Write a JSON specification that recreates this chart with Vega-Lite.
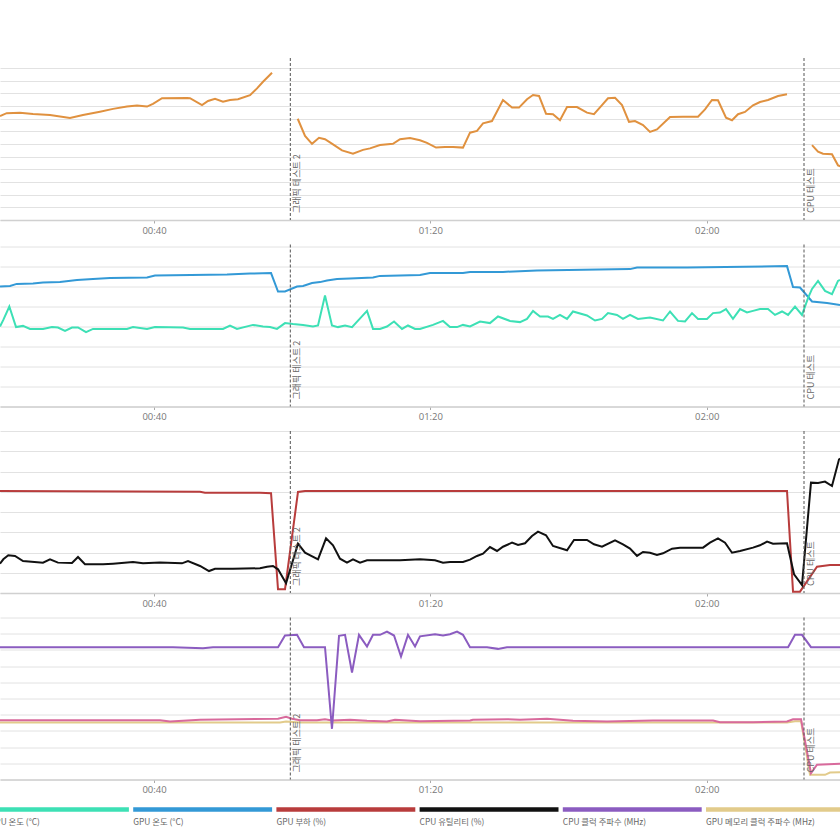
{
  "$schema": "https://vega.github.io/schema/vega-lite/v6.json",
  "background": "white",
  "padding": {"top": 57, "left": 0, "right": 0, "bottom": 0},
  "spacing": 8.5,
  "config": {
    "view": {"stroke": null},
    "font": "Noto Sans CJK KR",
    "axisX": {"domain": true, "domainColor": "#d0d0d0", "domainWidth": 1.5, "ticks": true, "tickColor": "#aaaaaa", "tickSize": 3, "labelColor": "#777777", "labelFontSize": 9.5, "labelPadding": 2, "labelFont": "Open Sans", "grid": false},
    "axisY": {"domain": false, "ticks": false, "labels": false, "grid": true, "gridColor": "#e2e2e2", "gridWidth": 1, "gridOpacity": 1},
    "line": {"strokeWidth": 2, "clip": true}
  },
  "datasets": {
    "fps": [
      {"s":"프레임 속도 (FPS)","seg":1,"t":17.71,"v":41.1},{"s":"프레임 속도 (FPS)","seg":1,"t":18.68,"v":42.2},{"s":"프레임 속도 (FPS)","seg":1,"t":20.60,"v":42.4},{"s":"프레임 속도 (FPS)","seg":1,"t":22.49,"v":41.9},{"s":"프레임 속도 (FPS)","seg":1,"t":24.95,"v":41.5},{"s":"프레임 속도 (FPS)","seg":1,"t":27.84,"v":40.3},{"s":"프레임 속도 (FPS)","seg":1,"t":29.72,"v":41.5},{"s":"프레임 속도 (FPS)","seg":1,"t":32.18,"v":42.8},{"s":"프레임 속도 (FPS)","seg":1,"t":34.07,"v":43.9},{"s":"프레임 속도 (FPS)","seg":1,"t":36.09,"v":44.8},{"s":"프레임 속도 (FPS)","seg":1,"t":37.54,"v":45.2},{"s":"프레임 속도 (FPS)","seg":1,"t":38.99,"v":44.8},{"s":"프레임 속도 (FPS)","seg":1,"t":39.85,"v":45.9},{"s":"프레임 속도 (FPS)","seg":1,"t":41.16,"v":48.1},{"s":"프레임 속도 (FPS)","seg":1,"t":44.78,"v":48.2},{"s":"프레임 속도 (FPS)","seg":1,"t":45.21,"v":48.1},{"s":"프레임 속도 (FPS)","seg":1,"t":46.95,"v":45.4},{"s":"프레임 속도 (FPS)","seg":1,"t":47.82,"v":47.0},{"s":"프레임 속도 (FPS)","seg":1,"t":48.83,"v":47.9},{"s":"프레임 속도 (FPS)","seg":1,"t":49.99,"v":46.7},{"s":"프레임 속도 (FPS)","seg":1,"t":51.00,"v":47.4},{"s":"프레임 속도 (FPS)","seg":1,"t":52.16,"v":47.7},{"s":"프레임 속도 (FPS)","seg":1,"t":53.90,"v":49.3},{"s":"프레임 속도 (FPS)","seg":1,"t":54.91,"v":52.0},{"s":"프레임 속도 (FPS)","seg":1,"t":55.78,"v":54.6},{"s":"프레임 속도 (FPS)","seg":1,"t":57.08,"v":58.2},
      {"s":"프레임 속도 (FPS)","seg":2,"t":60.80,"v":40.0},{"s":"프레임 속도 (FPS)","seg":2,"t":61.86,"v":33.2},{"s":"프레임 속도 (FPS)","seg":2,"t":62.87,"v":30.1},{"s":"프레임 속도 (FPS)","seg":2,"t":63.88,"v":32.5},{"s":"프레임 속도 (FPS)","seg":2,"t":64.75,"v":31.9},{"s":"프레임 속도 (FPS)","seg":2,"t":65.91,"v":29.9},{"s":"프레임 속도 (FPS)","seg":2,"t":67.21,"v":27.5},{"s":"프레임 속도 (FPS)","seg":2,"t":68.80,"v":26.2},{"s":"프레임 속도 (FPS)","seg":2,"t":70.25,"v":27.7},{"s":"프레임 속도 (FPS)","seg":2,"t":71.26,"v":28.3},
      {"s":"프레임 속도 (FPS)","seg":2,"t":72.71,"v":29.6},{"s":"프레임 속도 (FPS)","seg":2,"t":74.59,"v":30.1},{"s":"프레임 속도 (FPS)","seg":2,"t":75.61,"v":31.9},{"s":"프레임 속도 (FPS)","seg":2,"t":77.05,"v":32.4},{"s":"프레임 속도 (FPS)","seg":2,"t":78.50,"v":31.5},{"s":"프레임 속도 (FPS)","seg":2,"t":79.51,"v":30.5},{"s":"프레임 속도 (FPS)","seg":2,"t":80.82,"v":28.6},{"s":"프레임 속도 (FPS)","seg":2,"t":82.12,"v":28.8},{"s":"프레임 속도 (FPS)","seg":2,"t":83.28,"v":28.8},{"s":"프레임 속도 (FPS)","seg":2,"t":84.72,"v":28.6},
      {"s":"프레임 속도 (FPS)","seg":2,"t":85.74,"v":34.5},{"s":"프레임 속도 (FPS)","seg":2,"t":86.75,"v":35.2},{"s":"프레임 속도 (FPS)","seg":2,"t":87.62,"v":38.2},{"s":"프레임 속도 (FPS)","seg":2,"t":88.92,"v":39.1},{"s":"프레임 속도 (FPS)","seg":2,"t":90.51,"v":47.4},{"s":"프레임 속도 (FPS)","seg":2,"t":91.82,"v":44.4},{"s":"프레임 속도 (FPS)","seg":2,"t":92.83,"v":44.4},{"s":"프레임 속도 (FPS)","seg":2,"t":93.99,"v":47.7},{"s":"프레임 속도 (FPS)","seg":2,"t":94.86,"v":49.4},{"s":"프레임 속도 (FPS)","seg":2,"t":95.73,"v":49.0},
      {"s":"프레임 속도 (FPS)","seg":2,"t":96.74,"v":42.0},{"s":"프레임 속도 (FPS)","seg":2,"t":97.75,"v":41.8},{"s":"프레임 속도 (FPS)","seg":2,"t":98.76,"v":39.4},{"s":"프레임 속도 (FPS)","seg":2,"t":99.78,"v":44.6},{"s":"프레임 속도 (FPS)","seg":2,"t":101.22,"v":44.6},{"s":"프레임 속도 (FPS)","seg":2,"t":102.67,"v":42.4},{"s":"프레임 속도 (FPS)","seg":2,"t":103.68,"v":41.8},{"s":"프레임 속도 (FPS)","seg":2,"t":104.84,"v":45.4},{"s":"프레임 속도 (FPS)","seg":2,"t":105.71,"v":48.1},{"s":"프레임 속도 (FPS)","seg":2,"t":106.73,"v":48.3},
      {"s":"프레임 속도 (FPS)","seg":2,"t":107.74,"v":45.4},{"s":"프레임 속도 (FPS)","seg":2,"t":108.75,"v":38.8},{"s":"프레임 속도 (FPS)","seg":2,"t":109.62,"v":39.1},{"s":"프레임 속도 (FPS)","seg":2,"t":110.78,"v":37.5},{"s":"프레임 속도 (FPS)","seg":2,"t":111.79,"v":34.8},{"s":"프레임 속도 (FPS)","seg":2,"t":112.80,"v":35.8},{"s":"프레임 속도 (FPS)","seg":2,"t":114.69,"v":40.7},{"s":"프레임 속도 (FPS)","seg":2,"t":116.57,"v":40.8},{"s":"프레임 속도 (FPS)","seg":2,"t":118.74,"v":40.8},{"s":"프레임 속도 (FPS)","seg":2,"t":119.75,"v":43.7},
      {"s":"프레임 속도 (FPS)","seg":2,"t":120.76,"v":47.4},{"s":"프레임 속도 (FPS)","seg":2,"t":121.63,"v":47.3},{"s":"프레임 속도 (FPS)","seg":2,"t":122.79,"v":40.4},{"s":"프레임 속도 (FPS)","seg":2,"t":123.66,"v":39.4},{"s":"프레임 속도 (FPS)","seg":2,"t":124.53,"v":41.8},{"s":"프레임 속도 (FPS)","seg":2,"t":125.54,"v":42.7},{"s":"프레임 속도 (FPS)","seg":2,"t":126.70,"v":45.3},{"s":"프레임 속도 (FPS)","seg":2,"t":127.71,"v":46.6},{"s":"프레임 속도 (FPS)","seg":2,"t":128.87,"v":47.4},{"s":"프레임 속도 (FPS)","seg":2,"t":130.32,"v":49.0},{"s":"프레임 속도 (FPS)","seg":2,"t":131.62,"v":49.7},
      {"s":"프레임 속도 (FPS)","seg":3,"t":135.24,"v":29.6},{"s":"프레임 속도 (FPS)","seg":3,"t":136.11,"v":27.0},{"s":"프레임 속도 (FPS)","seg":3,"t":136.83,"v":26.2},{"s":"프레임 속도 (FPS)","seg":3,"t":138.13,"v":26.0},{"s":"프레임 속도 (FPS)","seg":3,"t":139.00,"v":21.6},{"s":"프레임 속도 (FPS)","seg":3,"t":139.58,"v":21.0}
    ],
    "temp": [
      {"s":"GPU 온도 (°C)","t":17.71,"v":60},{"s":"GPU 온도 (°C)","t":19.16,"v":60.3},{"s":"GPU 온도 (°C)","t":20.13,"v":61.3},{"s":"GPU 온도 (°C)","t":22.49,"v":61.5},{"s":"GPU 온도 (°C)","t":23.93,"v":62},{"s":"GPU 온도 (°C)","t":26.39,"v":62.2},{"s":"GPU 온도 (°C)","t":28.85,"v":63.3},{"s":"GPU 온도 (°C)","t":31.17,"v":63.7},{"s":"GPU 온도 (°C)","t":33.63,"v":64.2},{"s":"GPU 온도 (°C)","t":38.99,"v":64.5},{"s":"GPU 온도 (°C)","t":40.14,"v":65.5},{"s":"GPU 온도 (°C)","t":50.57,"v":66},{"s":"GPU 온도 (°C)","t":53.90,"v":66.5},{"s":"GPU 온도 (°C)","t":56.94,"v":66.7},{"s":"GPU 온도 (°C)","t":57.95,"v":57.5},{"s":"GPU 온도 (°C)","t":58.96,"v":57.5},{"s":"GPU 온도 (°C)","t":60.70,"v":60},{"s":"GPU 온도 (°C)","t":61.57,"v":60.3},{"s":"GPU 온도 (°C)","t":62.87,"v":61.7},{"s":"GPU 온도 (°C)","t":64.03,"v":62.2},{"s":"GPU 온도 (°C)","t":65.04,"v":63},{"s":"GPU 온도 (°C)","t":66.49,"v":63.7},{"s":"GPU 온도 (°C)","t":68.37,"v":64},{"s":"GPU 온도 (°C)","t":71.70,"v":64.5},{"s":"GPU 온도 (°C)","t":72.71,"v":65.3},{"s":"GPU 온도 (°C)","t":78.50,"v":65.8},{"s":"GPU 온도 (°C)","t":79.95,"v":66.7},{"s":"GPU 온도 (°C)","t":84.72,"v":66.8},{"s":"GPU 온도 (°C)","t":85.74,"v":67.3},{"s":"GPU 온도 (°C)","t":90.51,"v":67.3},{"s":"GPU 온도 (°C)","t":95.44,"v":68},{"s":"GPU 온도 (°C)","t":108.90,"v":68.7},{"s":"GPU 온도 (°C)","t":109.91,"v":69.5},{"s":"GPU 온도 (°C)","t":117.15,"v":69.5},{"s":"GPU 온도 (°C)","t":131.62,"v":70.2},{"s":"GPU 온도 (°C)","t":132.49,"v":59.7},{"s":"GPU 온도 (°C)","t":133.50,"v":59.5},{"s":"GPU 온도 (°C)","t":135.24,"v":52.5},{"s":"GPU 온도 (°C)","t":137.41,"v":51.7},{"s":"GPU 온도 (°C)","t":139.29,"v":50.8},
      {"s":"CPU 온도 (°C)","t":17.71,"v":40},{"s":"CPU 온도 (°C)","t":18.19,"v":43.3},{"s":"CPU 온도 (°C)","t":19.06,"v":50},{"s":"CPU 온도 (°C)","t":20.03,"v":39.7},{"s":"CPU 온도 (°C)","t":21.04,"v":40.3},{"s":"CPU 온도 (°C)","t":22.05,"v":38.8},{"s":"CPU 온도 (°C)","t":23.93,"v":38.8},{"s":"CPU 온도 (°C)","t":25.24,"v":39.7},{"s":"CPU 온도 (°C)","t":26.10,"v":39.5},{"s":"CPU 온도 (°C)","t":27.12,"v":37.8},{"s":"CPU 온도 (°C)","t":28.13,"v":39.5},{"s":"CPU 온도 (°C)","t":29.00,"v":39.5},{"s":"CPU 온도 (°C)","t":30.16,"v":37.2},{"s":"CPU 온도 (°C)","t":31.17,"v":38.8},{"s":"CPU 온도 (°C)","t":36.09,"v":38.8},{"s":"CPU 온도 (°C)","t":36.96,"v":39.7},{"s":"CPU 온도 (°C)","t":38.99,"v":38.8},{"s":"CPU 온도 (°C)","t":40.14,"v":39.7},{"s":"CPU 온도 (°C)","t":44.20,"v":39.5},{"s":"CPU 온도 (°C)","t":45.21,"v":38.8},{"s":"CPU 온도 (°C)","t":49.99,"v":38.8},{"s":"CPU 온도 (°C)","t":51.00,"v":40.5},{"s":"CPU 온도 (°C)","t":52.01,"v":38.8},{"s":"CPU 온도 (°C)","t":54.33,"v":40.8},{"s":"CPU 온도 (°C)","t":55.78,"v":40},{"s":"CPU 온도 (°C)","t":56.79,"v":39.7},{"s":"CPU 온도 (°C)","t":57.80,"v":38.8},{"s":"CPU 온도 (°C)","t":58.96,"v":41.7},{"s":"CPU 온도 (°C)","t":60.12,"v":41.2},{"s":"CPU 온도 (°C)","t":61.57,"v":40.8},{"s":"CPU 온도 (°C)","t":63.01,"v":40},{"s":"CPU 온도 (°C)","t":63.74,"v":40.5},{"s":"CPU 온도 (°C)","t":64.75,"v":55.5},{"s":"CPU 온도 (°C)","t":65.76,"v":40.5},{"s":"CPU 온도 (°C)","t":66.63,"v":39.7},{"s":"CPU 온도 (°C)","t":67.65,"v":40.5},{"s":"CPU 온도 (°C)","t":68.66,"v":39.7},{"s":"CPU 온도 (°C)","t":70.83,"v":47.8},{"s":"CPU 온도 (°C)","t":71.70,"v":38.8},{"s":"CPU 온도 (°C)","t":72.71,"v":38.8},{"s":"CPU 온도 (°C)","t":73.72,"v":40},{"s":"CPU 온도 (°C)","t":74.74,"v":42.5},{"s":"CPU 온도 (°C)","t":75.90,"v":38.8},{"s":"CPU 온도 (°C)","t":76.76,"v":40.5},{"s":"CPU 온도 (°C)","t":77.78,"v":38.8},{"s":"CPU 온도 (°C)","t":78.50,"v":38.8},{"s":"CPU 온도 (°C)","t":80.38,"v":40.8},{"s":"CPU 온도 (°C)","t":81.83,"v":42.8},{"s":"CPU 온도 (°C)","t":82.84,"v":39.7},{"s":"CPU 온도 (°C)","t":83.86,"v":39.7},{"s":"CPU 온도 (°C)","t":84.72,"v":40.8},{"s":"CPU 온도 (°C)","t":85.74,"v":40},{"s":"CPU 온도 (°C)","t":87.19,"v":42.5},{"s":"CPU 온도 (°C)","t":88.63,"v":41.7},{"s":"CPU 온도 (°C)","t":89.79,"v":45},{"s":"CPU 온도 (°C)","t":91.53,"v":42.8},{"s":"CPU 온도 (°C)","t":92.97,"v":42.2},{"s":"CPU 온도 (°C)","t":93.99,"v":43.8},{"s":"CPU 온도 (°C)","t":94.86,"v":47.8},{"s":"CPU 온도 (°C)","t":95.87,"v":45},{"s":"CPU 온도 (°C)","t":97.03,"v":45},{"s":"CPU 온도 (°C)","t":97.75,"v":43.8},{"s":"CPU 온도 (°C)","t":98.76,"v":45.8},{"s":"CPU 온도 (°C)","t":99.78,"v":43.8},{"s":"CPU 온도 (°C)","t":100.64,"v":47.5},{"s":"CPU 온도 (°C)","t":102.67,"v":45.5},{"s":"CPU 온도 (°C)","t":103.83,"v":43},{"s":"CPU 온도 (°C)","t":104.84,"v":43.8},{"s":"CPU 온도 (°C)","t":105.71,"v":46.7},{"s":"CPU 온도 (°C)","t":107.01,"v":45.8},{"s":"CPU 온도 (°C)","t":107.88,"v":43.8},{"s":"CPU 온도 (°C)","t":108.90,"v":45.8},{"s":"CPU 온도 (°C)","t":110.05,"v":43.8},{"s":"CPU 온도 (°C)","t":111.79,"v":44.5},{"s":"CPU 온도 (°C)","t":113.67,"v":43},{"s":"CPU 온도 (°C)","t":114.69,"v":47.5},{"s":"CPU 온도 (°C)","t":115.84,"v":42.8},{"s":"CPU 온도 (°C)","t":116.86,"v":42.5},{"s":"CPU 온도 (°C)","t":117.87,"v":46.7},{"s":"CPU 온도 (°C)","t":118.74,"v":43.8},{"s":"CPU 온도 (°C)","t":120.04,"v":43.8},{"s":"CPU 온도 (°C)","t":120.91,"v":46.7},{"s":"CPU 온도 (°C)","t":121.92,"v":47},{"s":"CPU 온도 (°C)","t":122.79,"v":48.7},{"s":"CPU 온도 (°C)","t":123.80,"v":43.8},{"s":"CPU 온도 (°C)","t":124.82,"v":48.7},{"s":"CPU 온도 (°C)","t":125.83,"v":47},{"s":"CPU 온도 (°C)","t":126.70,"v":47.8},{"s":"CPU 온도 (°C)","t":127.71,"v":48.7},{"s":"CPU 온도 (°C)","t":128.87,"v":48.7},{"s":"CPU 온도 (°C)","t":129.88,"v":45.8},{"s":"CPU 온도 (°C)","t":130.90,"v":47.5},{"s":"CPU 온도 (°C)","t":131.77,"v":45.8},{"s":"CPU 온도 (°C)","t":132.78,"v":50},{"s":"CPU 온도 (°C)","t":133.79,"v":45.8},{"s":"CPU 온도 (°C)","t":134.66,"v":54.2},{"s":"CPU 온도 (°C)","t":135.24,"v":58.8},{"s":"CPU 온도 (°C)","t":136.11,"v":62.8},{"s":"CPU 온도 (°C)","t":137.12,"v":57.8},{"s":"CPU 온도 (°C)","t":138.13,"v":56.2},{"s":"CPU 온도 (°C)","t":139.00,"v":62.8},{"s":"CPU 온도 (°C)","t":139.29,"v":63.3}
    ],
    "load": [
      {"s":"GPU 부하 (%)","t":17.71,"v":100.8},{"s":"GPU 부하 (%)","t":46.66,"v":100.1},{"s":"GPU 부하 (%)","t":47.38,"v":99.1},{"s":"GPU 부하 (%)","t":55.34,"v":99.1},{"s":"GPU 부하 (%)","t":56.94,"v":98.5},{"s":"GPU 부하 (%)","t":57.95,"v":3.6},{"s":"GPU 부하 (%)","t":58.96,"v":3.6},{"s":"GPU 부하 (%)","t":60.84,"v":99.8},{"s":"GPU 부하 (%)","t":61.86,"v":100.8},{"s":"GPU 부하 (%)","t":131.62,"v":100.8},{"s":"GPU 부하 (%)","t":132.49,"v":1.3},{"s":"GPU 부하 (%)","t":133.50,"v":1.3},{"s":"GPU 부하 (%)","t":135.96,"v":26},{"s":"GPU 부하 (%)","t":137.84,"v":27.6},{"s":"GPU 부하 (%)","t":139.29,"v":27.6},
      {"s":"CPU 유틸리티 (%)","t":17.71,"v":29},{"s":"CPU 유틸리티 (%)","t":18.19,"v":33.3},{"s":"CPU 유틸리티 (%)","t":18.91,"v":37.2},{"s":"CPU 유틸리티 (%)","t":19.88,"v":36.6},{"s":"CPU 유틸리티 (%)","t":21.04,"v":31.6},{"s":"CPU 유틸리티 (%)","t":23.93,"v":30},{"s":"CPU 유틸리티 (%)","t":24.95,"v":33.3},{"s":"CPU 유틸리티 (%)","t":26.10,"v":30},{"s":"CPU 유틸리티 (%)","t":28.13,"v":29.6},{"s":"CPU 유틸리티 (%)","t":29.00,"v":35.6},{"s":"CPU 유틸리티 (%)","t":30.01,"v":28.4},{"s":"CPU 유틸리티 (%)","t":32.62,"v":28.4},{"s":"CPU 유틸리티 (%)","t":34.07,"v":29},{"s":"CPU 유틸리티 (%)","t":36.96,"v":30.6},{"s":"CPU 유틸리티 (%)","t":38.41,"v":29.3},{"s":"CPU 유틸리티 (%)","t":40.87,"v":30},{"s":"CPU 유틸리티 (%)","t":44.05,"v":29.3},{"s":"CPU 유틸리티 (%)","t":44.92,"v":31.6},{"s":"CPU 유틸리티 (%)","t":46.66,"v":26.7},{"s":"CPU 유틸리티 (%)","t":47.96,"v":21.7},{"s":"CPU 유틸리티 (%)","t":48.83,"v":24},{"s":"CPU 유틸리티 (%)","t":51.43,"v":24},{"s":"CPU 유틸리티 (%)","t":55.34,"v":24.4},{"s":"CPU 유틸리티 (%)","t":56.36,"v":26},{"s":"CPU 유틸리티 (%)","t":57.22,"v":26.7},{"s":"CPU 유틸리티 (%)","t":57.95,"v":23.4},{"s":"CPU 유틸리티 (%)","t":59.11,"v":9.6},{"s":"CPU 유틸리티 (%)","t":60.84,"v":48.7},{"s":"CPU 유틸리티 (%)","t":61.86,"v":39.8},{"s":"CPU 유틸리티 (%)","t":63.74,"v":33.3},{"s":"CPU 유틸리티 (%)","t":64.90,"v":54},{"s":"CPU 유틸리티 (%)","t":65.91,"v":47.1},{"s":"CPU 유틸리티 (%)","t":66.92,"v":33.9},{"s":"CPU 유틸리티 (%)","t":67.93,"v":30},{"s":"CPU 유틸리티 (%)","t":68.80,"v":33.3},{"s":"CPU 유틸리티 (%)","t":69.82,"v":30},{"s":"CPU 유틸리티 (%)","t":70.83,"v":32.3},{"s":"CPU 유틸리티 (%)","t":75.61,"v":32.3},{"s":"CPU 유틸리티 (%)","t":78.50,"v":33.3},{"s":"CPU 유틸리티 (%)","t":80.67,"v":32.3},{"s":"CPU 유틸리티 (%)","t":81.83,"v":30},{"s":"CPU 유틸리티 (%)","t":82.84,"v":30.6},{"s":"CPU 유틸리티 (%)","t":84.72,"v":30.6},{"s":"CPU 유틸리티 (%)","t":85.74,"v":32.9},{"s":"CPU 유틸리티 (%)","t":86.75,"v":36.6},{"s":"CPU 유틸리티 (%)","t":87.62,"v":38.8},{"s":"CPU 유틸리티 (%)","t":88.63,"v":45.4},{"s":"CPU 유틸리티 (%)","t":89.65,"v":41.5},{"s":"CPU 유틸리티 (%)","t":90.51,"v":45.7},{"s":"CPU 유틸리티 (%)","t":91.82,"v":49.7},{"s":"CPU 유틸리티 (%)","t":92.69,"v":47.4},{"s":"CPU 유틸리티 (%)","t":93.70,"v":49.1},{"s":"CPU 유틸리티 (%)","t":94.71,"v":56.3},{"s":"CPU 유틸리티 (%)","t":95.58,"v":60.6},{"s":"CPU 유틸리티 (%)","t":96.74,"v":57},{"s":"CPU 유틸리티 (%)","t":97.75,"v":46.4},{"s":"CPU 유틸리티 (%)","t":99.78,"v":42.2},{"s":"CPU 유틸리티 (%)","t":100.79,"v":52.4},{"s":"CPU 유틸리티 (%)","t":102.67,"v":52.4},{"s":"CPU 유틸리티 (%)","t":103.68,"v":48.1},{"s":"CPU 유틸리티 (%)","t":104.84,"v":45.7},{"s":"CPU 유틸리티 (%)","t":106.73,"v":52.1},{"s":"CPU 유틸리티 (%)","t":107.88,"v":48.1},{"s":"CPU 유틸리티 (%)","t":108.90,"v":43.8},{"s":"CPU 유틸리티 (%)","t":109.91,"v":36.6},{"s":"CPU 유틸리티 (%)","t":110.78,"v":40.5},{"s":"CPU 유틸리티 (%)","t":111.79,"v":39.8},{"s":"CPU 유틸리티 (%)","t":112.80,"v":37.5},{"s":"CPU 유틸리티 (%)","t":113.67,"v":39.2},{"s":"CPU 유틸리티 (%)","t":114.98,"v":43.8},{"s":"CPU 유틸리티 (%)","t":116.13,"v":44.8},{"s":"CPU 유틸리티 (%)","t":119.46,"v":44.8},{"s":"CPU 유틸리티 (%)","t":120.47,"v":49.7},{"s":"CPU 유틸리티 (%)","t":121.63,"v":54},{"s":"CPU 유틸리티 (%)","t":122.65,"v":49.7},{"s":"CPU 유틸리티 (%)","t":123.66,"v":39.8},{"s":"CPU 유틸리티 (%)","t":124.82,"v":41.5},{"s":"CPU 유틸리티 (%)","t":126.70,"v":44.8},{"s":"CPU 유틸리티 (%)","t":127.71,"v":47.1},{"s":"CPU 유틸리티 (%)","t":128.73,"v":50.7},{"s":"CPU 유틸리티 (%)","t":129.59,"v":48.7},{"s":"CPU 유틸리티 (%)","t":131.62,"v":49.1},{"s":"CPU 유틸리티 (%)","t":132.64,"v":18.5},{"s":"CPU 유틸리티 (%)","t":133.79,"v":7.9},{"s":"CPU 유틸리티 (%)","t":135.09,"v":109},{"s":"CPU 유틸리티 (%)","t":136.11,"v":108.7},{"s":"CPU 유틸리티 (%)","t":137.12,"v":110},{"s":"CPU 유틸리티 (%)","t":138.13,"v":105.7},{"s":"CPU 유틸리티 (%)","t":139.15,"v":132},{"s":"CPU 유틸리티 (%)","t":139.43,"v":133}
    ],
    "clock": [
      {"s":"GPU 메모리 클럭 주파수 (MHz)","t":17.71,"v":1759},{"s":"GPU 메모리 클럭 주파수 (MHz)","t":58.24,"v":1759},{"s":"GPU 메모리 클럭 주파수 (MHz)","t":59.11,"v":1790},{"s":"GPU 메모리 클럭 주파수 (MHz)","t":61.13,"v":1759},{"s":"GPU 메모리 클럭 주파수 (MHz)","t":131.62,"v":1759},{"s":"GPU 메모리 클럭 주파수 (MHz)","t":132.78,"v":1800},{"s":"GPU 메모리 클럭 주파수 (MHz)","t":133.65,"v":1800},{"s":"GPU 메모리 클럭 주파수 (MHz)","t":134.95,"v":145},{"s":"GPU 메모리 클럭 주파수 (MHz)","t":137.12,"v":145},{"s":"GPU 메모리 클럭 주파수 (MHz)","t":137.84,"v":216},{"s":"GPU 메모리 클럭 주파수 (MHz)","t":139.29,"v":225},
      {"s":"GPU 클럭 주파수 (MHz)","t":17.71,"v":1830},{"s":"GPU 클럭 주파수 (MHz)","t":40.87,"v":1830},{"s":"GPU 클럭 주파수 (MHz)","t":42.32,"v":1790},{"s":"GPU 클럭 주파수 (MHz)","t":46.66,"v":1842},{"s":"GPU 클럭 주파수 (MHz)","t":57.95,"v":1873},{"s":"GPU 클럭 주파수 (MHz)","t":59.11,"v":1935},{"s":"GPU 클럭 주파수 (MHz)","t":59.97,"v":1873},{"s":"GPU 클럭 주파수 (MHz)","t":61.13,"v":1830},{"s":"GPU 클럭 주파수 (MHz)","t":63.59,"v":1830},{"s":"GPU 클럭 주파수 (MHz)","t":64.75,"v":1861},{"s":"GPU 클럭 주파수 (MHz)","t":65.76,"v":1821},{"s":"GPU 클럭 주파수 (MHz)","t":68.37,"v":1842},{"s":"GPU 클럭 주파수 (MHz)","t":70.83,"v":1811},{"s":"GPU 클럭 주파수 (MHz)","t":73.72,"v":1790},{"s":"GPU 클럭 주파수 (MHz)","t":74.88,"v":1842},{"s":"GPU 클럭 주파수 (MHz)","t":78.50,"v":1800},{"s":"GPU 클럭 주파수 (MHz)","t":85.74,"v":1821},{"s":"GPU 클럭 주파수 (MHz)","t":86.17,"v":1842},{"s":"GPU 클럭 주파수 (MHz)","t":91.09,"v":1861},{"s":"GPU 클럭 주파수 (MHz)","t":92.97,"v":1842},{"s":"GPU 클럭 주파수 (MHz)","t":96.88,"v":1873},{"s":"GPU 클럭 주파수 (MHz)","t":98.76,"v":1842},{"s":"GPU 클럭 주파수 (MHz)","t":100.64,"v":1811},{"s":"GPU 클럭 주파수 (MHz)","t":105.57,"v":1790},{"s":"GPU 클럭 주파수 (MHz)","t":112.22,"v":1821},{"s":"GPU 클럭 주파수 (MHz)","t":120.91,"v":1821},{"s":"GPU 클럭 주파수 (MHz)","t":121.92,"v":1768},{"s":"GPU 클럭 주파수 (MHz)","t":126.70,"v":1768},{"s":"GPU 클럭 주파수 (MHz)","t":131.62,"v":1790},{"s":"GPU 클럭 주파수 (MHz)","t":132.49,"v":1861},{"s":"GPU 클럭 주파수 (MHz)","t":133.65,"v":1861},{"s":"GPU 클럭 주파수 (MHz)","t":135.09,"v":194},{"s":"GPU 클럭 주파수 (MHz)","t":135.96,"v":454},{"s":"GPU 클럭 주파수 (MHz)","t":139.29,"v":484},
      {"s":"CPU 클럭 주파수 (MHz)","t":17.71,"v":4083},{"s":"CPU 클럭 주파수 (MHz)","t":42.75,"v":4083},{"s":"CPU 클럭 주파수 (MHz)","t":47.09,"v":4052},{"s":"CPU 클럭 주파수 (MHz)","t":48.54,"v":4083},{"s":"CPU 클럭 주파수 (MHz)","t":57.95,"v":4083},{"s":"CPU 클럭 주파수 (MHz)","t":58.96,"v":4444},{"s":"CPU 클럭 주파수 (MHz)","t":60.70,"v":4465},{"s":"CPU 클럭 주파수 (MHz)","t":61.71,"v":4083},{"s":"CPU 클럭 주파수 (MHz)","t":64.75,"v":4083},{"s":"CPU 클럭 주파수 (MHz)","t":65.76,"v":1565},{"s":"CPU 클럭 주파수 (MHz)","t":66.78,"v":4434},{"s":"CPU 클럭 주파수 (MHz)","t":67.65,"v":4465},{"s":"CPU 클럭 주파수 (MHz)","t":68.66,"v":3302},{"s":"CPU 클럭 주파수 (MHz)","t":69.67,"v":4465},{"s":"CPU 클럭 주파수 (MHz)","t":70.83,"v":4104},{"s":"CPU 클럭 주파수 (MHz)","t":71.70,"v":4465},{"s":"CPU 클럭 주파수 (MHz)","t":72.71,"v":4465},{"s":"CPU 클럭 주파수 (MHz)","t":73.72,"v":4567},{"s":"CPU 클럭 주파수 (MHz)","t":74.74,"v":4444},{"s":"CPU 클럭 주파수 (MHz)","t":75.75,"v":3796},{"s":"CPU 클럭 주파수 (MHz)","t":76.76,"v":4465},{"s":"CPU 클럭 주파수 (MHz)","t":77.78,"v":4104},{"s":"CPU 클럭 주파수 (MHz)","t":78.50,"v":4420},{"s":"CPU 클럭 주파수 (MHz)","t":80.67,"v":4485},{"s":"CPU 클럭 주파수 (MHz)","t":81.83,"v":4444},{"s":"CPU 클럭 주파수 (MHz)","t":82.84,"v":4485},{"s":"CPU 클럭 주파수 (MHz)","t":83.86,"v":4567},{"s":"CPU 클럭 주파수 (MHz)","t":84.72,"v":4465},{"s":"CPU 클럭 주파수 (MHz)","t":85.74,"v":4083},{"s":"CPU 클럭 주파수 (MHz)","t":88.20,"v":4083},{"s":"CPU 클럭 주파수 (MHz)","t":89.79,"v":4032},{"s":"CPU 클럭 주파수 (MHz)","t":91.09,"v":4083},{"s":"CPU 클럭 주파수 (MHz)","t":131.77,"v":4083},{"s":"CPU 클럭 주파수 (MHz)","t":132.78,"v":4465},{"s":"CPU 클럭 주파수 (MHz)","t":133.79,"v":4465},{"s":"CPU 클럭 주파수 (MHz)","t":135.09,"v":4083},{"s":"CPU 클럭 주파수 (MHz)","t":139.29,"v":4083}
    ],
    "markers": [
      {"t": 59.73, "label": "그래픽 테스트 2"},
      {"t": 134.08, "label": "CPU 테스트"}
    ],
    "legend": [
      {"s": "CPU 온도 (°C)"},
      {"s": "GPU 온도 (°C)"},
      {"s": "GPU 부하 (%)"},
      {"s": "CPU 유틸리티 (%)"},
      {"s": "CPU 클럭 주파수 (MHz)"},
      {"s": "GPU 메모리 클럭 주파수 (MHz)"}
    ]
  },
  "vconcat": [
    {
      "width": 840, "height": 162,
      "encoding": {"x": {"field": "t", "type": "quantitative", "scale": {"domain": [17.71, 139.29], "nice": false, "zero": false}, "axis": {"values": [40, 80, 120], "labelExpr": "utcFormat(datum.value*1000, '%M:%S')", "title": null}}},
      "layer": [
        {"data": {"name": "fps"}, "mark": {"type": "line", "clip": true},
         "encoding": {"y": {"field": "v", "type": "quantitative", "title": null, "scale": {"domain": [0, 64], "nice": false}, "axis": {"values": [0,5,10,15,20,25,30,35,40,45,50,55,60]}},
           "detail": {"field": "seg", "type": "nominal"},
           "color": {"field": "s", "type": "nominal", "legend": null, "scale": {"domain": ["프레임 속도 (FPS)","CPU 온도 (°C)","GPU 온도 (°C)","GPU 부하 (%)","CPU 유틸리티 (%)","CPU 클럭 주파수 (MHz)","GPU 메모리 클럭 주파수 (MHz)","GPU 클럭 주파수 (MHz)"], "range": ["#e0913f","#3de0b5","#3399d6","#b83c3c","#111111","#8b5cc0","#e2cb8b","#d86a9c"]}}}},
        {"data": {"name": "markers"}, "mark": {"type": "rule", "strokeDash": [3, 2], "color": "#555555", "strokeWidth": 1}, "encoding": {}},
        {"data": {"name": "markers"}, "mark": {"type": "text", "angle": 270, "align": "left", "baseline": "top", "dx": 7, "dy": 3, "fontSize": 9, "color": "#666666"},
         "encoding": {"y": {"datum": 0, "type": "quantitative", "title": null, "axis": {"values": [0,5,10,15,20,25,30,35,40,45,50,55,60]}}, "text": {"field": "label"}}}
      ]
    },
    {
      "width": 840, "height": 162,
      "encoding": {"x": {"field": "t", "type": "quantitative", "scale": {"domain": [17.71, 139.29], "nice": false, "zero": false}, "axis": {"values": [40, 80, 120], "labelExpr": "utcFormat(datum.value*1000, '%M:%S')", "title": null}}},
      "layer": [
        {"data": {"name": "temp"}, "mark": {"type": "line", "clip": true},
         "encoding": {"y": {"field": "v", "type": "quantitative", "title": null, "scale": {"domain": [0, 81], "nice": false}, "axis": {"values": [0,10,20,30,40,50,60,70,80]}},
           "color": {"field": "s", "type": "nominal", "legend": null, "scale": {"domain": ["프레임 속도 (FPS)","CPU 온도 (°C)","GPU 온도 (°C)","GPU 부하 (%)","CPU 유틸리티 (%)","CPU 클럭 주파수 (MHz)","GPU 메모리 클럭 주파수 (MHz)","GPU 클럭 주파수 (MHz)"], "range": ["#e0913f","#3de0b5","#3399d6","#b83c3c","#111111","#8b5cc0","#e2cb8b","#d86a9c"]}}}},
        {"data": {"name": "markers"}, "mark": {"type": "rule", "strokeDash": [3, 2], "color": "#555555", "strokeWidth": 1}, "encoding": {}},
        {"data": {"name": "markers"}, "mark": {"type": "text", "angle": 270, "align": "left", "baseline": "top", "dx": 7, "dy": 3, "fontSize": 9, "color": "#666666"},
         "encoding": {"y": {"datum": 0, "type": "quantitative", "title": null, "axis": {"values": [0,10,20,30,40,50,60,70,80]}}, "text": {"field": "label"}}}
      ]
    },
    {
      "width": 840, "height": 162,
      "encoding": {"x": {"field": "t", "type": "quantitative", "scale": {"domain": [17.71, 139.29], "nice": false, "zero": false}, "axis": {"values": [40, 80, 120], "labelExpr": "utcFormat(datum.value*1000, '%M:%S')", "title": null}}},
      "layer": [
        {"data": {"name": "load"}, "mark": {"type": "line", "clip": true},
         "encoding": {"y": {"field": "v", "type": "quantitative", "title": null, "scale": {"domain": [0, 160], "nice": false}, "axis": {"values": [0,20,40,60,80,100,120,140,160]}},
           "color": {"field": "s", "type": "nominal", "legend": null, "scale": {"domain": ["프레임 속도 (FPS)","CPU 온도 (°C)","GPU 온도 (°C)","GPU 부하 (%)","CPU 유틸리티 (%)","CPU 클럭 주파수 (MHz)","GPU 메모리 클럭 주파수 (MHz)","GPU 클럭 주파수 (MHz)"], "range": ["#e0913f","#3de0b5","#3399d6","#b83c3c","#111111","#8b5cc0","#e2cb8b","#d86a9c"]}}}},
        {"data": {"name": "markers"}, "mark": {"type": "rule", "strokeDash": [3, 2], "color": "#555555", "strokeWidth": 1}, "encoding": {}},
        {"data": {"name": "markers"}, "mark": {"type": "text", "angle": 270, "align": "left", "baseline": "top", "dx": 7, "dy": 3, "fontSize": 9, "color": "#666666"},
         "encoding": {"y": {"datum": 0, "type": "quantitative", "title": null, "axis": {"values": [0,20,40,60,80,100,120,140,160]}}, "text": {"field": "label"}}}
      ]
    },
    {
      "width": 840, "height": 162,
      "encoding": {"x": {"field": "t", "type": "quantitative", "scale": {"domain": [17.71, 139.29], "nice": false, "zero": false}, "axis": {"values": [40, 80, 120], "labelExpr": "utcFormat(datum.value*1000, '%M:%S')", "title": null}}},
      "layer": [
        {"data": {"name": "clock"}, "mark": {"type": "line", "clip": true},
         "encoding": {"y": {"field": "v", "type": "quantitative", "title": null, "scale": {"domain": [0, 5000], "nice": false}, "axis": {"values": [0,500,1000,1500,2000,2500,3000,3500,4000,4500,5000]}},
           "color": {"field": "s", "type": "nominal", "legend": null, "scale": {"domain": ["프레임 속도 (FPS)","CPU 온도 (°C)","GPU 온도 (°C)","GPU 부하 (%)","CPU 유틸리티 (%)","CPU 클럭 주파수 (MHz)","GPU 메모리 클럭 주파수 (MHz)","GPU 클럭 주파수 (MHz)"], "range": ["#e0913f","#3de0b5","#3399d6","#b83c3c","#111111","#8b5cc0","#e2cb8b","#d86a9c"]}}}},
        {"data": {"name": "markers"}, "mark": {"type": "rule", "strokeDash": [3, 2], "color": "#555555", "strokeWidth": 1}, "encoding": {}},
        {"data": {"name": "markers"}, "mark": {"type": "text", "angle": 270, "align": "left", "baseline": "top", "dx": 7, "dy": 3, "fontSize": 9, "color": "#666666"},
         "encoding": {"y": {"datum": 0, "type": "quantitative", "title": null, "axis": {"values": [0,500,1000,1500,2000,2500,3000,3500,4000,4500,5000]}}, "text": {"field": "label"}}}
      ]
    },
    {
      "width": 840, "height": 28,
      "data": {"name": "legend"},
      "encoding": {
        "x": {"field": "s", "type": "nominal", "sort": null, "axis": null,
              "scale": {"domain": ["프레임 속도 (FPS)","CPU 온도 (°C)","GPU 온도 (°C)","GPU 부하 (%)","CPU 유틸리티 (%)","CPU 클럭 주파수 (MHz)","GPU 메모리 클럭 주파수 (MHz)","GPU 클럭 주파수 (MHz)"], "range": [-153.2, 988.1], "paddingInner": 0.03, "paddingOuter": 0}}
      },
      "layer": [
        {"mark": {"type": "bar", "clip": true},
         "encoding": {
           "y": {"datum": 4.3, "type": "quantitative", "scale": {"domain": [0, 28], "reverse": true, "nice": false}, "axis": null},
           "y2": {"datum": 8.8},
           "color": {"field": "s", "type": "nominal", "legend": null, "scale": {"domain": ["프레임 속도 (FPS)","CPU 온도 (°C)","GPU 온도 (°C)","GPU 부하 (%)","CPU 유틸리티 (%)","CPU 클럭 주파수 (MHz)","GPU 메모리 클럭 주파수 (MHz)","GPU 클럭 주파수 (MHz)"], "range": ["#e0913f","#3de0b5","#3399d6","#b83c3c","#111111","#8b5cc0","#e2cb8b","#d86a9c"]}}}},
        {"mark": {"type": "text", "align": "left", "baseline": "middle", "clip": true, "fontSize": 8.4, "color": "#666666"},
         "encoding": {
           "x": {"field": "s", "type": "nominal", "sort": null, "bandPosition": 0},
           "y": {"datum": 18.8, "type": "quantitative"},
           "text": {"field": "s"}}}
      ]
    }
  ]
}
